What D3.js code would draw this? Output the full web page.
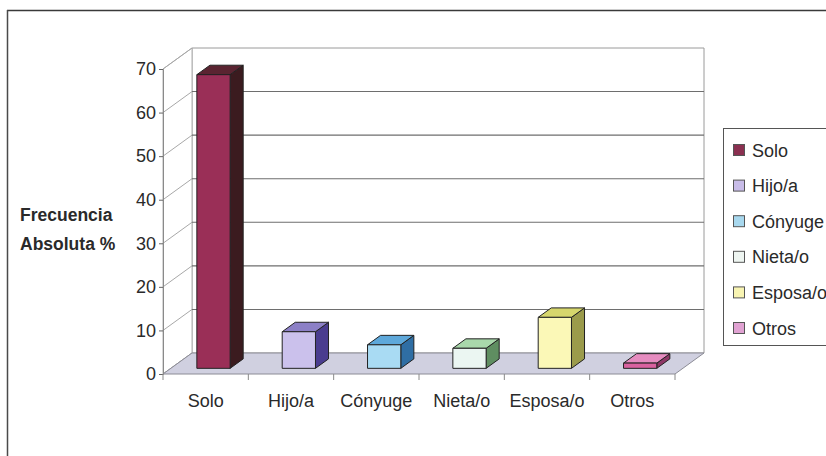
<!DOCTYPE html>
<html>
<head>
<meta charset="utf-8">
<script src="https://cdn.jsdelivr.net/npm/d3@7"></script>
<style>
  html, body { margin: 0; padding: 0; background: #fff; }
  svg { display: block; font-family: "Liberation Sans", Arial, sans-serif; }
</style>
</head>
<body>
<svg id="chart" width="826" height="456"></svg>
<script>
// Household composition: who the respondent lives with
const categories = ["Solo", "Hijo/a", "Cónyuge", "Nieta/o", "Esposa/o", "Otros"];
const values = [67.4, 8.4, 5.4, 4.6, 11.7, 1.2];
const yTicks = [0, 10, 20, 30, 40, 50, 60, 70];
const frontColors = ["#9a2f57", "#cbc1ec", "#a9dbf3", "#ebf6f2", "#fbf8b7", "#d9629f"];
const topColors   = ["#5a2431", "#8c80c6", "#5ea8da", "#a9d8ab", "#d6d66c", "#e68cc0"];
const sideColors  = ["#3b1b1f", "#4a3c8f", "#2f6ea4", "#5f8e61", "#9b9b4b", "#8e3766"];
const legendColors = ["#8a3050", "#c8bce8", "#a8d8ee", "#eef5f1", "#f8f4b2", "#e0a2d2"];

const svg = d3.select("#chart");

// Front plane scales, plus an oblique offset for depth
const y = d3.scaleLinear().domain([0, 70]).range([374, 69]);
const x = d3.scaleBand().domain(categories).range([163, 675]).paddingInner(0).paddingOuter(0);
const DX = 29, DY = -21;                // full depth offset of the back wall
const proj = (px, v, z) => [px + DX * z, y(v) + DY * z];
const pts = arr => arr.map(p => p.join(",")).join(" ");

const x0 = x.range()[0], x1 = x.range()[1];

// Outer frame
svg.append("line").attr("x1", 7).attr("y1", 10.5).attr("x2", 826).attr("y2", 10.5)
  .attr("stroke", "#3a3a3a").attr("stroke-width", 1.6);
svg.append("line").attr("x1", 7.5).attr("y1", 10).attr("x2", 7.5).attr("y2", 456)
  .attr("stroke", "#4a4a4a").attr("stroke-width", 1.5);

const g = svg.append("g");

// Back wall
g.append("polygon")
  .attr("points", pts([proj(x0, 0, 1), proj(x1, 0, 1), proj(x1, 70, 1), proj(x0, 70, 1)]))
  .attr("fill", "#fff").attr("stroke", "#9a9a9a").attr("stroke-width", 1);

// Side wall
g.append("polygon")
  .attr("points", pts([proj(x0, 0, 0), proj(x0, 0, 1), proj(x0, 70, 1), proj(x0, 70, 0)]))
  .attr("fill", "#fff").attr("stroke", "#b0b0b0").attr("stroke-width", 1);

// Gridlines on back wall and side wall
yTicks.forEach(t => {
  const a = proj(x0, t, 1), b = proj(x1, t, 1), f = proj(x0, t, 0);
  if (t > 0 && t < 70) {
    g.append("line").attr("x1", a[0]).attr("y1", a[1]).attr("x2", b[0]).attr("y2", b[1])
      .attr("stroke", "#6e6e6e").attr("stroke-width", 1.1);
  }
  g.append("line").attr("x1", f[0]).attr("y1", f[1]).attr("x2", a[0]).attr("y2", a[1])
    .attr("stroke", "#a8a8a8").attr("stroke-width", 1);
});

// Floor
g.append("polygon")
  .attr("points", pts([proj(x0, 0, 0), proj(x1, 0, 0), proj(x1, 0, 1), proj(x0, 0, 1)]))
  .attr("fill", "#d0d0e0").attr("stroke", "#8c8c96").attr("stroke-width", 1);

// Value axis on the front-left edge
const yAxis = d3.axisLeft(y).tickValues(yTicks).tickSize(4).tickPadding(3).tickFormat(d3.format("d"));
const ya = svg.append("g").attr("transform", `translate(${x0},0)`).call(yAxis);
ya.select(".domain").attr("stroke", "#8a8a8a");
ya.selectAll(".tick line").attr("stroke", "#666");
ya.selectAll(".tick text").attr("fill", "#2a2a2a").style("font-size", "18px")
  .style("font-family", "'Liberation Sans', Arial, sans-serif");

// Category axis along the front edge of the floor
const xAxis = d3.axisBottom(x).tickSize(0).tickPadding(20);
const xa = svg.append("g").attr("transform", `translate(0,${y(0)})`).call(xAxis);
xa.select(".domain").remove();
xa.selectAll(".tick text").attr("fill", "#2a2a2a").style("font-size", "18px")
  .style("font-family", "'Liberation Sans', Arial, sans-serif");
// Tick marks between categories
const bounds = categories.map(c => x(c)).concat([x1]);
svg.append("g").selectAll("line").data(bounds).join("line")
  .attr("x1", d => d).attr("x2", d => d).attr("y1", y(0)).attr("y2", y(0) + 6)
  .attr("stroke", "#8a8a8a");

// 3D columns
const zF = 0.27, zB = 0.72;
const faceW = x.bandwidth() * 0.39;
const bars = svg.append("g");
categories.forEach((c, i) => {
  const v = values[i];
  const cx = x(c) + x.bandwidth() / 2;
  const l = cx - faceW / 2, r = cx + faceW / 2;
  const fBL = proj(l, 0, zF), fBR = proj(r, 0, zF), fTR = proj(r, v, zF), fTL = proj(l, v, zF);
  const bBR = proj(r, 0, zB), bTR = proj(r, v, zB), bTL = proj(l, v, zB);
  const stroke = "#222";
  bars.append("polygon").attr("points", pts([fBR, bBR, bTR, fTR]))
    .attr("fill", sideColors[i]).attr("stroke", stroke).attr("stroke-width", 1).attr("stroke-linejoin", "round");
  bars.append("polygon").attr("points", pts([fTL, fTR, bTR, bTL]))
    .attr("fill", topColors[i]).attr("stroke", stroke).attr("stroke-width", 1).attr("stroke-linejoin", "round");
  bars.append("polygon").attr("points", pts([fBL, fBR, fTR, fTL]))
    .attr("fill", frontColors[i]).attr("stroke", stroke).attr("stroke-width", 1).attr("stroke-linejoin", "round");
});

// Value axis title
const title = svg.append("text").attr("x", 20).attr("fill", "#2a2a2a")
  .style("font-size", "17.5px").style("font-weight", "bold");
title.append("tspan").attr("x", 20).attr("y", 221).text("Frecuencia");
title.append("tspan").attr("x", 20).attr("y", 250).text("Absoluta %");

// Legend
const legend = svg.append("g");
legend.append("rect").attr("x", 723.5).attr("y", 128.5).attr("width", 120).attr("height", 217)
  .attr("fill", "#fff").attr("stroke", "#555").attr("stroke-width", 1);
const ly = d3.scalePoint().domain(categories).range([150, 328]);
categories.forEach((c, i) => {
  legend.append("rect").attr("x", 733.5).attr("y", ly(c) - 5.5).attr("width", 11).attr("height", 11)
    .attr("fill", legendColors[i]).attr("stroke", "#555").attr("stroke-width", 1);
  legend.append("text").attr("x", 752).attr("y", ly(c) + 6.5).attr("fill", "#2a2a2a")
    .style("font-size", "18px").text(c);
});
</script>
</body>
</html>
